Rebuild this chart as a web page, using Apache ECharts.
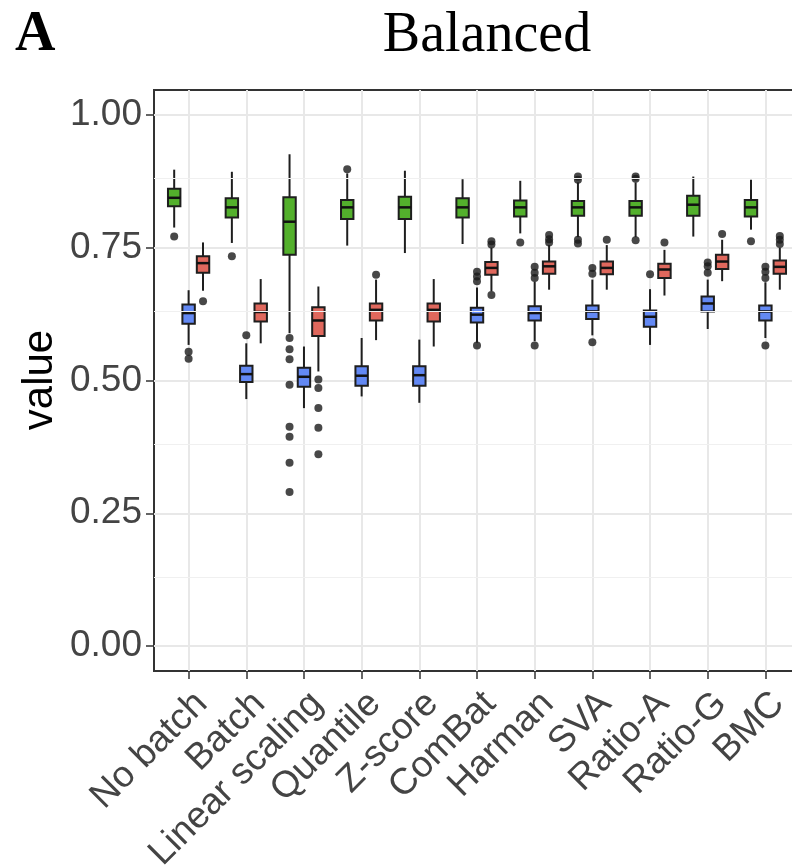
<!DOCTYPE html>
<html>
<head>
<meta charset="utf-8">
<script src="https://cdn.jsdelivr.net/npm/echarts@6.0.0/dist/echarts.min.js"></script>
<style>
html,body{margin:0;padding:0;background:#fff;}
#chart{width:792px;height:868px;}
</style>
</head>
<body>
<div id="chart"></div>
<script>
// ---- data ----
const categories = ['No batch','Batch','Linear scaling','Quantile','Z-score','ComBat','Harman','SVA','Ratio-A','Ratio-G','BMC'];
const yTicks = [0, 0.25, 0.5, 0.75, 1.0];
const yMinorTicks = [0.125, 0.375, 0.625, 0.875];

// [lower whisker, Q1, median, Q3, upper whisker]
const greenBoxes = [
  [0.788, 0.828, 0.844, 0.861, 0.897],
  [0.759, 0.807, 0.826, 0.843, 0.893],
  [0.589, 0.737, 0.799, 0.845, 0.926],
  [0.754, 0.804, 0.826, 0.840, 0.890],
  [0.740, 0.804, 0.826, 0.846, 0.895],
  [0.757, 0.807, 0.826, 0.843, 0.879],
  [0.777, 0.809, 0.826, 0.839, 0.876],
  [0.770, 0.810, 0.826, 0.838, 0.873],
  [0.770, 0.810, 0.826, 0.838, 0.873],
  [0.771, 0.810, 0.831, 0.848, 0.884],
  [0.784, 0.809, 0.826, 0.840, 0.878]
];
const blueBoxes = [
  [0.567, 0.607, 0.627, 0.643, 0.670],
  [0.465, 0.497, 0.512, 0.528, 0.570],
  [0.448, 0.488, 0.507, 0.524, 0.564],
  [0.470, 0.490, 0.509, 0.527, 0.580],
  [0.458, 0.490, 0.510, 0.527, 0.577],
  [0.571, 0.609, 0.624, 0.637, 0.675],
  [0.574, 0.613, 0.627, 0.640, 0.686],
  [0.585, 0.616, 0.630, 0.641, 0.690],
  [0.567, 0.601, 0.620, 0.632, 0.672],
  [0.597, 0.630, 0.645, 0.658, 0.690],
  [0.580, 0.613, 0.630, 0.641, 0.685]
];
const redBoxes = [
  [0.669, 0.703, 0.721, 0.734, 0.760],
  [0.570, 0.611, 0.629, 0.645, 0.691],
  [0.517, 0.584, 0.613, 0.638, 0.677],
  [0.576, 0.613, 0.633, 0.645, 0.690],
  [0.564, 0.611, 0.633, 0.645, 0.691],
  [0.668, 0.699, 0.712, 0.723, 0.750],
  [0.671, 0.701, 0.715, 0.724, 0.755],
  [0.671, 0.700, 0.712, 0.724, 0.755],
  [0.660, 0.693, 0.709, 0.720, 0.746],
  [0.687, 0.710, 0.724, 0.737, 0.765],
  [0.671, 0.701, 0.714, 0.726, 0.750]
];
// outliers: [category index, value]
const greenOutliers = [
  [0, 0.771], [1, 0.734],
  [2, 0.580], [2, 0.559], [2, 0.540], [2, 0.492], [2, 0.413], [2, 0.394], [2, 0.345], [2, 0.290],
  [3, 0.898], [6, 0.760],
  [7, 0.878], [7, 0.884], [7, 0.765], [7, 0.758],
  [8, 0.880], [8, 0.884], [8, 0.764],
  [10, 0.762]
];
const blueOutliers = [
  [0, 0.554], [0, 0.541], [1, 0.585],
  [5, 0.705], [5, 0.696], [5, 0.687], [5, 0.566],
  [6, 0.714], [6, 0.703], [6, 0.693], [6, 0.566],
  [7, 0.712], [7, 0.701], [7, 0.572],
  [8, 0.700],
  [9, 0.722], [9, 0.715], [9, 0.703],
  [10, 0.714], [10, 0.705], [10, 0.693], [10, 0.566]
];
const redOutliers = [
  [0, 0.649],
  [2, 0.502], [2, 0.486], [2, 0.448], [2, 0.411], [2, 0.361],
  [3, 0.699],
  [5, 0.762], [5, 0.756], [5, 0.661],
  [6, 0.774], [6, 0.766], [6, 0.760],
  [7, 0.765], [8, 0.760], [9, 0.776],
  [10, 0.772], [10, 0.765], [10, 0.757]
];

// ---- styling / layout ----
const groups = [
  {boxes: greenBoxes, outliers: greenOutliers, color: '#53b02c', offset: -0.25},
  {boxes: blueBoxes,  outliers: blueOutliers,  color: '#6389f4', offset: 0},
  {boxes: redBoxes,   outliers: redOutliers,   color: '#e0685d', offset: 0.25}
];
const DODGE = 0.25;
const LINE = '#1e1e1e';
const catIdx = categories.map((_, i) => i);

function boxRenderer(offset, color) {
  return function (params, api) {
    const c = api.value(0) + offset;
    const lo = api.value(1), q1 = api.value(2), md = api.value(3), q3 = api.value(4), hi = api.value(5);
    const w = api.size([DODGE, 0])[0] - 2;
    const pHi = api.coord([c, hi]);
    const pLo = api.coord([c, lo]);
    const pQ3 = api.coord([c, q3]);
    const pQ1 = api.coord([c, q1]);
    const pMd = api.coord([c, md]);
    const x0 = pQ3[0] - w / 2;
    return {
      type: 'group',
      children: [
        {type: 'line', shape: {x1: pHi[0], y1: pHi[1], x2: pQ3[0], y2: pQ3[1]}, style: {stroke: LINE, lineWidth: 2}},
        {type: 'line', shape: {x1: pQ1[0], y1: pQ1[1], x2: pLo[0], y2: pLo[1]}, style: {stroke: LINE, lineWidth: 2}},
        {type: 'rect', shape: {x: x0, y: pQ3[1], width: w, height: pQ1[1] - pQ3[1]},
          style: {fill: color, stroke: LINE, lineWidth: 2}},
        {type: 'line', shape: {x1: x0, y1: pMd[1], x2: x0 + w, y2: pMd[1]}, style: {stroke: '#111', lineWidth: 2.5}}
      ]
    };
  };
}

const series = [];
series.push({
  type: 'line', data: [], z: 1, silent: true,
  markLine: {
    silent: true, symbol: ['none', 'none'], label: {show: false},
    lineStyle: {color: '#f0f0f0', width: 1, type: 'solid'},
    data: yMinorTicks.map(v => ({yAxis: v}))
  }
});
groups.forEach(g => {
  series.push({
    type: 'custom',
    z: 3,
    renderItem: boxRenderer(g.offset, g.color),
    encode: {x: 0, y: [1, 2, 3, 4, 5]},
    data: g.boxes.map((b, i) => [i].concat(b))
  });
  series.push({
    type: 'scatter',
    z: 4,
    symbol: 'circle',
    symbolSize: 8,
    itemStyle: {color: '#1a1a1a'},
    data: g.outliers.map(o => [o[0] + g.offset, o[1]])
  });
});

const chart = echarts.init(document.getElementById('chart'), null, {renderer: 'canvas'});
chart.setOption({
  animation: false,
  backgroundColor: '#ffffff',
  grid: {
    left: 154, top: 90, width: 646, height: 581,
    show: true, borderColor: '#333333', borderWidth: 2, backgroundColor: 'transparent',
    containLabel: false, outerBoundsMode: 'none'
  },
  xAxis: {
    type: 'value', min: -0.6, max: 10.6,
    axisLine: {show: false, onZero: false},
    axisTick: {show: true, customValues: catIdx, length: 8, lineStyle: {color: '#333', width: 1.5}},
    axisLabel: {
      customValues: catIdx,
      formatter: v => categories[Math.round(v)],
      rotate: 45, align: 'right', verticalAlign: 'top', margin: 14,
      fontFamily: 'Liberation Sans, Arial, sans-serif', fontSize: 37, color: '#444'
    },
    splitLine: {show: true, lineStyle: {color: '#e8e8e8', width: 2}}
  },
  yAxis: {
    type: 'value', min: -0.047, max: 1.047,
    axisLine: {show: false, onZero: false},
    axisTick: {show: true, customValues: yTicks, length: 8, lineStyle: {color: '#333', width: 1.5}},
    axisLabel: {
      customValues: yTicks,
      formatter: v => v.toFixed(2),
      margin: 12,
      fontFamily: 'Liberation Sans, Arial, sans-serif', fontSize: 37, color: '#444'
    },
    splitLine: {show: true, lineStyle: {color: '#e8e8e8', width: 2}}
  },
  graphic: [
    {type: 'text', x: 15, y: 36,
      style: {text: 'A', font: 'bold 56px "Liberation Serif", "Times New Roman", serif', fill: '#000', textAlign: 'left', textVerticalAlign: 'middle'}},
    {type: 'text', x: 487, y: 36,
      style: {text: 'Balanced', font: '56px "Liberation Serif", "Times New Roman", serif', fill: '#000', textAlign: 'center', textVerticalAlign: 'middle'}},
    {type: 'text', x: 40, y: 380, rotation: Math.PI / 2,
      style: {text: 'value', font: '42px "Liberation Sans", Arial, sans-serif', fill: '#000', textAlign: 'center', textVerticalAlign: 'middle'}}
  ],
  series: series
});
</script>
</body>
</html>
